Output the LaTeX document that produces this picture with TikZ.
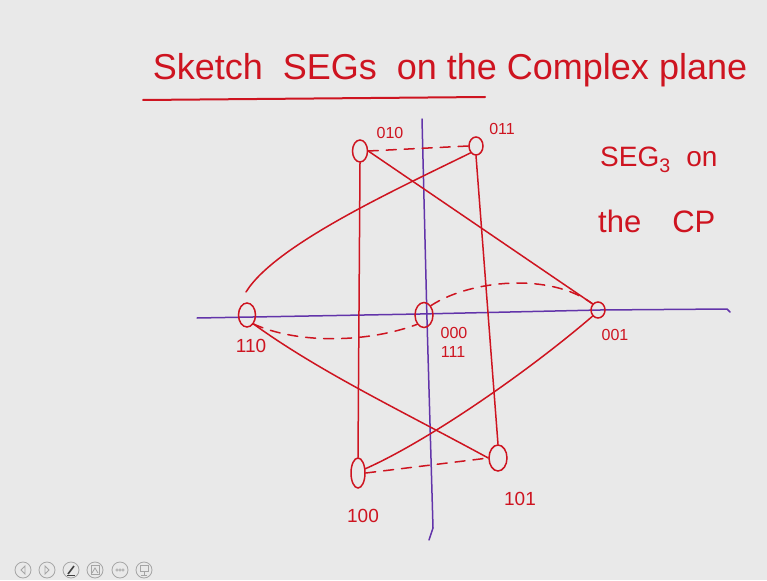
\documentclass[tikz,border=0pt]{standalone}
\usepackage{fontspec}
\setmainfont{Liberation Sans}
\usetikzlibrary{shapes.geometric}
\definecolor{inkred}{RGB}{206,20,32}
\definecolor{inkpurple}{RGB}{98,52,170}
\definecolor{slidebg}{RGB}{233,233,233}
\definecolor{iconfg}{RGB}{165,165,165}

\begin{document}
\begin{tikzpicture}[x=1pt, y=-1pt,
  ink/.style={inkred, line width=1.5pt, line cap=round, line join=round},
  axis/.style={inkpurple, line width=1.5pt, line cap=round, line join=round},
  gap/.style={ink, dash pattern=on 10pt off 8pt},
  vtx/.style={ellipse, draw=inkred, line width=1.5pt, inner sep=0pt},
  lbl/.style={inkred, inner sep=0pt, font=\fontsize{16}{16}\selectfont},
  biglbl/.style={lbl, font=\fontsize{19}{19}\selectfont},
  icon/.style={iconfg, line width=0.8pt}]
\fill[slidebg] (0,0) rectangle (767,580);
\useasboundingbox (0,0) rectangle (767,580);

% title
\node[inkred, anchor=base, inner sep=0pt, font=\fontsize{36}{36}\selectfont] (title) at (450,80) {Sketch \ SEGs \ on the Complex plane};
\draw[ink, line width=2pt] (143,100) -- (485,97);

% note
\node[inkred, anchor=base west, inner sep=0pt, font=\fontsize{28}{28}\selectfont] (note1) at (600,167) {SEG\textsubscript{3} \ on};
\node[inkred, anchor=base west, inner sep=0pt, font=\fontsize{31}{31}\selectfont] (note2) at (598,232) {the\quad CP};

% axes
\draw[axis] (197,318) -- (420,314) -- (600,310) -- (727,309) -- (730,312);
\draw[axis] (422,119) -- (427,320) -- (433,528) -- (429,540);

% vertices
\node[vtx, minimum width=15pt, minimum height=22pt] (v010) at (360,151) {};
\node[vtx, minimum width=14pt, minimum height=18pt] (v011) at (476,146) {};
\node[vtx, minimum width=17pt, minimum height=24pt] (v110) at (247,315) {};
\node[vtx, minimum width=18pt, minimum height=25pt] (v000) at (424,315) {};
\node[vtx, minimum width=14pt, minimum height=16pt] (v001) at (598,310) {};
\node[vtx, minimum width=14pt, minimum height=30pt] (v100) at (358,473) {};
\node[vtx, minimum width=18pt, minimum height=26pt] (v101) at (498,458) {};
\coordinate (tip) at (246,292);

% labels
\node[lbl] (l010) at (390,133) {010};
\node[lbl] (l011) at (502,129) {011};
\node[biglbl] (l110) at (251,346) {110};
\node[lbl] (l000) at (454,333) {000};
\node[lbl] (l111) at (453,352) {111};
\node[lbl] (l001) at (615,335) {001};
\node[biglbl] (l100) at (363,516) {100};
\node[biglbl] (l101) at (520,499) {101};

% edges
\draw[ink] (v010.south) -- (v100.north);
\draw[ink] (v011.south) -- (v101.north);
\draw[gap] (v010.east) -- (v011.west);
\draw[gap] (v100.east) -- (v101.west);
\draw[ink] (v010.east) -- (v001.north west);
\draw[ink] (v011.south west) .. controls (395,190) and (275,245) .. (tip);
\draw[ink] (v110.south east) .. controls (320,372) and (400,410) .. (v101.west);
\draw[ink] (v100.30) .. controls (430,440) and (530,370) .. (v001.south west);
\draw[gap] (v110.south east) .. controls (300,345) and (370,342) .. (v000.south west);
\draw[gap] (v000.north east) .. controls (470,280) and (550,272) .. (v001.north west);

% player buttons
\foreach \x in {23,47,71,95,120,144}
  \draw[icon] (\x,570) circle (8pt);
\draw[icon] (25,566) -- (21,570) -- (25,574) -- cycle;
\draw[icon] (45,566) -- (49,570) -- (45,574) -- cycle;
\draw[black!75, line width=1.6pt] (68,574) -- (74,566);
\draw[black!75, line width=0.8pt] (67,575) -- (75,575);
\draw[icon] (91,565) rectangle (99,574);
\draw[icon] (92,573) -- (95,568) -- (98,573);
\foreach \d in {-3,0,3}
  \draw[icon, line width=0.5pt] (120+\d,570) circle (1.2pt);
\draw[icon] (140,565) rectangle (148,571);
\draw[icon] (144,571) -- (144,575) (141,575) -- (147,575);
\end{tikzpicture}
\end{document}
